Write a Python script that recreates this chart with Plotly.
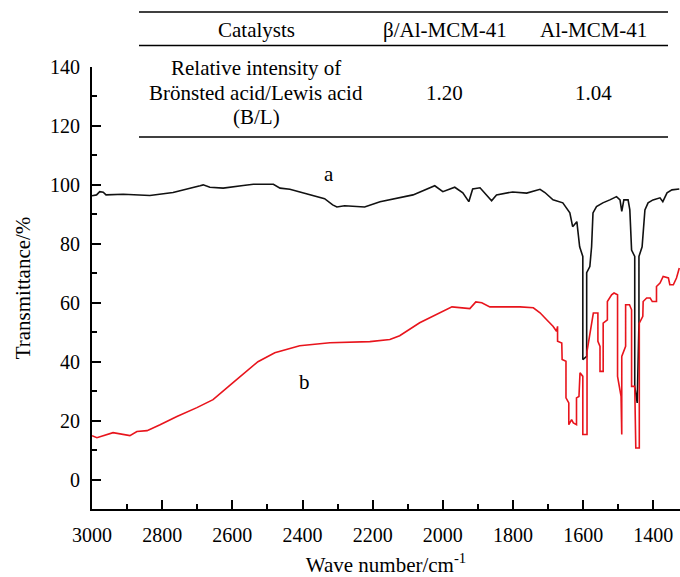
import plotly.graph_objects as go

# ---- data ----
wn_a = [3000, 2987, 2978, 2968, 2960, 2911, 2835, 2769, 2692, 2683, 2664, 2626, 2569, 2540,
        2483, 2464, 2436, 2408, 2365, 2337, 2314, 2302, 2280, 2223, 2179, 2085, 2023, 2000,
        1966, 1943, 1926, 1915, 1894, 1875, 1861, 1847, 1801, 1761, 1723, 1709, 1686, 1658,
        1638, 1630, 1618, 1610, 1601, 1601, 1590, 1590, 1581, 1576, 1572, 1562, 1544, 1524,
        1505, 1495, 1490, 1484, 1472, 1467, 1462, 1453, 1453, 1446, 1441, 1441, 1432, 1424,
        1415, 1401, 1381, 1373, 1361, 1347, 1326]
t_a = [96.3, 96.6, 97.7, 97.5, 96.6, 96.8, 96.4, 97.4, 99.7, 100.0, 99.2, 98.9, 99.8, 100.2,
       100.2, 98.9, 98.5, 97.6, 96.3, 95.3, 93.2, 92.5, 92.9, 92.5, 94.3, 96.6, 99.7, 97.7,
       99.2, 97.3, 94.3, 98.6, 99.0, 96.6, 94.6, 96.6, 97.6, 97.2, 98.5, 97.4, 94.9, 93.9,
       90.5, 85.8, 87.5, 79.0, 75.7, 40.7, 41.8, 70.2, 72.3, 79.0, 90.5, 92.6, 93.9, 94.9,
       96.0, 94.9, 91.0, 94.9, 94.9, 91.5, 77.9, 75.7, 31.6, 26.0, 53.0, 75.7, 79.0, 91.5,
       93.9, 94.9, 95.6, 94.3, 97.3, 98.3, 98.6]

wn_b = [3000, 2986, 2940, 2912, 2892, 2872, 2843, 2806, 2758, 2701, 2655, 2598, 2527, 2479,
        2408, 2322, 2208, 2151, 2123, 2066, 2009, 1974, 1923, 1906, 1889, 1866, 1837, 1780,
        1742, 1723, 1704, 1686, 1676, 1673, 1673, 1661, 1660, 1649, 1649, 1641, 1641, 1633,
        1628, 1619, 1619, 1612, 1609, 1601, 1601, 1589, 1589, 1571, 1558, 1558, 1552, 1552,
        1543, 1543, 1531, 1531, 1519, 1512, 1502, 1502, 1492, 1490, 1490, 1479, 1479, 1468,
        1462, 1462, 1453, 1450, 1440, 1440, 1430, 1429, 1419, 1409, 1403, 1391, 1391, 1381,
        1372, 1357, 1353, 1343, 1334, 1326]
t_b = [14.9, 14.2, 15.9, 15.3, 14.9, 16.3, 16.6, 18.6, 21.4, 24.4, 27.1, 32.9, 40.0, 43.0,
       45.4, 46.4, 46.8, 47.5, 48.8, 53.2, 56.6, 58.6, 58.0, 60.3, 60.0, 58.6, 58.6, 58.6,
       58.3, 56.6, 54.2, 52.0, 50.3, 52.0, 46.9, 46.3, 40.7, 40.1, 27.7, 26.0, 18.6, 20.3,
       19.2, 18.6, 27.7, 28.2, 36.2, 35.0, 15.3, 15.3, 43.5, 56.5, 56.5, 46.9, 45.2, 36.7,
       36.7, 53.1, 54.2, 60.4, 62.7, 63.3, 62.7, 35.0, 28.2, 15.3, 41.8, 45.2, 59.3, 59.3,
       57.6, 31.6, 31.6, 10.7, 10.7, 53.1, 55.4, 60.4, 61.6, 61.6, 60.4, 60.4, 65.5, 66.7,
       68.9, 68.4, 66.1, 66.1, 68.4, 71.8]

label_a = ("a", 2325, 103.7)
label_b = ("b", 2393, 33.2)

table_header = ["Catalysts", "β/Al-MCM-41", "Al-MCM-41"]
table_row_label = ["Relative intensity of", "Brönsted acid/Lewis acid", "(B/L)"]
table_values = ["1.20", "1.04"]

# ---- layout geometry ----
W, H = 680, 577
ML, MR, MT, MB = 92, 0, 67, 68
PW, PH = W - ML - MR, H - MT - MB


def px(x):
    return (x - ML) / PW


def py(y):
    return (H - MB - y) / PH


FONT = "Liberation Serif, Times New Roman, serif"

fig = go.Figure()
fig.add_trace(go.Scatter(x=wn_a, y=t_a, mode="lines", line=dict(color="#111111", width=1.6),
                         showlegend=False, hoverinfo="skip"))
fig.add_trace(go.Scatter(x=wn_b, y=t_b, mode="lines", line=dict(color="#e8141c", width=1.6),
                         showlegend=False, hoverinfo="skip"))

annotations = []
for txt, xx, yy in (label_a, label_b):
    annotations.append(dict(text=txt, x=xx, y=yy, xref="x", yref="y", showarrow=False,
                            font=dict(size=21, color="black", family=FONT)))

col_x = [256, 445, 593]
for txt, cx in zip(table_header, col_x):
    annotations.append(dict(text=txt, x=px(cx), y=py(30), xref="paper", yref="paper",
                            showarrow=False, xanchor="center", yanchor="middle",
                            font=dict(size=21, color="black", family=FONT)))
for txt, cy in zip(table_row_label, [68, 92.5, 117]):
    annotations.append(dict(text=txt, x=px(col_x[0]), y=py(cy), xref="paper", yref="paper",
                            showarrow=False, xanchor="center", yanchor="middle",
                            font=dict(size=21, color="black", family=FONT)))
for txt, cx in zip(table_values, col_x[1:]):
    annotations.append(dict(text=txt, x=px(cx), y=py(92.5), xref="paper", yref="paper",
                            showarrow=False, xanchor="center", yanchor="middle",
                            font=dict(size=21, color="black", family=FONT)))

shapes = []
for ly in [12, 45.5, 137]:
    shapes.append(dict(type="line", xref="paper", yref="paper", x0=px(139), x1=px(668),
                       y0=py(ly), y1=py(ly), line=dict(color="black", width=1.5)))

axis_common = dict(showgrid=False, zeroline=False, showline=True, linecolor="black",
                   linewidth=2, ticks="inside", ticklen=9, tickwidth=2, tickcolor="black",
                   tickfont=dict(size=20, color="black", family=FONT),
                   minor=dict(ticks="inside", ticklen=5, tickwidth=2, tickcolor="black"))

fig.update_layout(
    width=W, height=H,
    margin=dict(l=ML, r=MR, t=MT, b=MB),
    paper_bgcolor="white", plot_bgcolor="white",
    xaxis=dict(range=[3000, 1324], tickmode="linear", tick0=1400, dtick=200,
               minor_dtick=100, ticklabelstandoff=7,
               title=dict(text="Wave number/cm<sup>-1</sup>", standoff=13,
                          font=dict(size=21, color="black", family=FONT)),
               **axis_common),
    yaxis=dict(range=[-10, 140], tickmode="linear", tick0=0, dtick=20, minor_dtick=10,
               ticklabelstandoff=6,
               title=dict(text="Transmittance/%", standoff=14,
                          font=dict(size=21, color="black", family=FONT)),
               **axis_common),
    annotations=annotations, shapes=shapes,
)

fig.write_html("out.html")
